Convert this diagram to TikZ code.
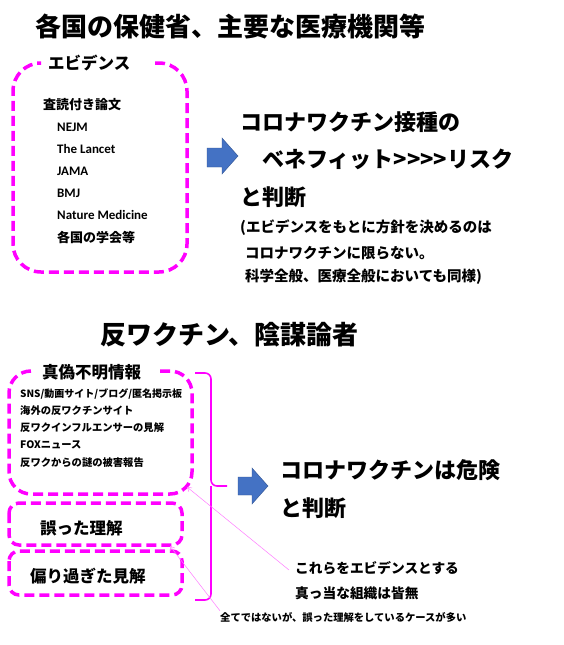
\documentclass[tikz,border=0pt]{standalone}
\usepackage{fontspec}
\setmainfont{Noto Sans CJK JP}
\newfontfamily\plainjp{Noto Sans CJK JP}
\newfontfamily\latinfont{Carlito}
\usetikzlibrary{arrows.meta}
\definecolor{boxpink}{HTML}{FF00FF}
\definecolor{notepink}{HTML}{FF7BFF}
\definecolor{arrowblue}{HTML}{4472C4}
\definecolor{arrowedge}{HTML}{2F528F}

\begin{document}
\begin{tikzpicture}[x=1pt, y=-1pt,
    txt/.style={anchor=west, inner sep=0pt},
    dashbox/.style={boxpink, line width=3.5pt, dash pattern=on 10pt off 5pt},
    blockarrow/.style={fill=arrowblue, draw=arrowedge, line width=0.4pt},
    noteline/.style={notepink, line width=0.5pt, -{Straight Barb[length=4pt, width=5pt]}}]
        \useasboundingbox (0,0) rectangle (564,645);

        % titles
        \node[txt, font=\fontsize{26}{30}\selectfont\bfseries] (govTitle) at (35,27) {各国の保健省、主要な医療機関等};
        \node[txt, font=\fontsize{26}{30}\selectfont\bfseries] (antiTitle) at (100,335) {反ワクチン、陰謀論者};

        % evidence box
        \draw[dashbox, rounded corners=28pt] (155,63) -- (187,63) -- (187,272) -- (13,272) -- (13,63) -- (37,63);
        \node[txt, font=\fontsize{16.5}{20}\selectfont\bfseries] (evLabel) at (48,63) {エビデンス};
        \node[txt, font=\fontsize{13}{16}\selectfont\bfseries] (paperHead) at (43,105) {査読付き論文};
        \node[txt, font=\fontsize{13}{16}\selectfont\bfseries\latinfont] (nejm) at (57,127) {NEJM};
        \node[txt, font=\fontsize{13}{16}\selectfont\bfseries\latinfont] (lancet) at (57,149) {The Lancet};
        \node[txt, font=\fontsize{13}{16}\selectfont\bfseries\latinfont] (jama) at (57,171) {JAMA};
        \node[txt, font=\fontsize{13}{16}\selectfont\bfseries\latinfont] (bmj) at (57,193) {BMJ};
        \node[txt, font=\fontsize{13}{16}\selectfont\bfseries\latinfont] (natmed) at (57,215) {Nature Medicine};
        \node[txt, font=\fontsize{13}{16}\selectfont\bfseries] (societies) at (57,237) {各国の学会等};

        \draw[blockarrow] (207,148) -- (222,148) -- (222,138) -- (238,156) -- (222,174) -- (222,167) -- (207,167) -- cycle;

        \node[txt, font=\fontsize{22}{26}\selectfont\bfseries] (benefitA) at (240,122) {コロナワクチン接種の};
        \node[txt, font=\fontsize{22}{26}\selectfont\bfseries\plainjp] (benefitB) at (262,159) {ベネフィット>>>>リスク};
        \node[txt, font=\fontsize{22}{26}\selectfont\bfseries] (benefitC) at (240,197) {と判断};
        \node[txt, font=\fontsize{14.5}{18}\selectfont\bfseries] (remarkA) at (240,228) {(エビデンスをもとに方針を決めるのは};
        \node[txt, font=\fontsize{14.5}{18}\selectfont\bfseries] (remarkB) at (245,253) {コロナワクチンに限らない。};
        \node[txt, font=\fontsize{14.5}{18}\selectfont\bfseries] (remarkC) at (245,277) {科学全般、医療全般においても同様)};

        % dubious sources
        \draw[dashbox, rounded corners=22pt] (160,371) -- (192,371) -- (192,494) -- (9,494) -- (9,371) -- (32,371);
        \node[txt, font=\fontsize{16.5}{20}\selectfont\bfseries] (infoLabel) at (42,372) {真偽不明情報};
        \node[txt, font=\fontsize{10}{13}\selectfont\bfseries] (sns) at (20,394) {SNS/動画サイト/ブログ/匿名掲示板};
        \node[txt, font=\fontsize{10.3}{13}\selectfont\bfseries] (overseas) at (20,411) {海外の反ワクチンサイト};
        \node[txt, font=\fontsize{10.3}{13}\selectfont\bfseries] (influencer) at (20,428) {反ワクインフルエンサーの見解};
        \node[txt, font=\fontsize{10.3}{13}\selectfont\bfseries] (fox) at (20,445) {FOXニュース};
        \node[txt, font=\fontsize{10.3}{13}\selectfont\bfseries] (harm) at (20,463) {反ワクからの謎の被害報告};

        \draw[dashbox, rounded corners=10pt] (9,503) rectangle (182,545);
        \node[txt, font=\fontsize{16.5}{20}\selectfont\bfseries] (wrongLabel) at (40,528) {誤った理解};
        \draw[dashbox, rounded corners=10pt] (9,551) rectangle (182,595);
        \node[txt, font=\fontsize{16.5}{20}\selectfont\bfseries] (biasLabel) at (30,576) {偏り過ぎた見解};

        % brace
        \draw[boxpink, line width=1.6pt, rounded corners=6pt] (195,373) -- (211,373) -- (211,486) -- (227,486);
        \draw[boxpink, line width=1.6pt, rounded corners=6pt] (195,600) -- (211,600) -- (211,486);

        \draw[blockarrow] (238,477) -- (252,477) -- (252,468) -- (268,486) -- (252,504) -- (252,495) -- (238,495) -- cycle;
        \node[txt, font=\fontsize{22}{26}\selectfont\bfseries] (dangerA) at (280,470) {コロナワクチンは危険};
        \node[txt, font=\fontsize{22}{26}\selectfont\bfseries] (dangerB) at (280,508) {と判断};

        % notes
        \node[txt, font=\fontsize{13.7}{17}\selectfont\bfseries] (noteA) at (295,568) {これらをエビデンスとする};
        \node[txt, font=\fontsize{13.7}{17}\selectfont\bfseries] (noteB) at (295,593) {真っ当な組織は皆無};
        \node[txt, font=\fontsize{10.3}{13}\selectfont\bfseries] (noteC) at (220,617) {全てではないが、誤った理解をしているケースが多い};
        \coordinate (infoCorner) at (187,487);
        \coordinate (wrongCorner) at (170,546);
        \draw[noteline] ([xshift=-6pt, yshift=-2pt]noteA.west) -- (infoCorner);
        \draw[noteline] ([yshift=1pt]noteC.north west) -- (wrongCorner);
    \end{tikzpicture}
\end{document}
